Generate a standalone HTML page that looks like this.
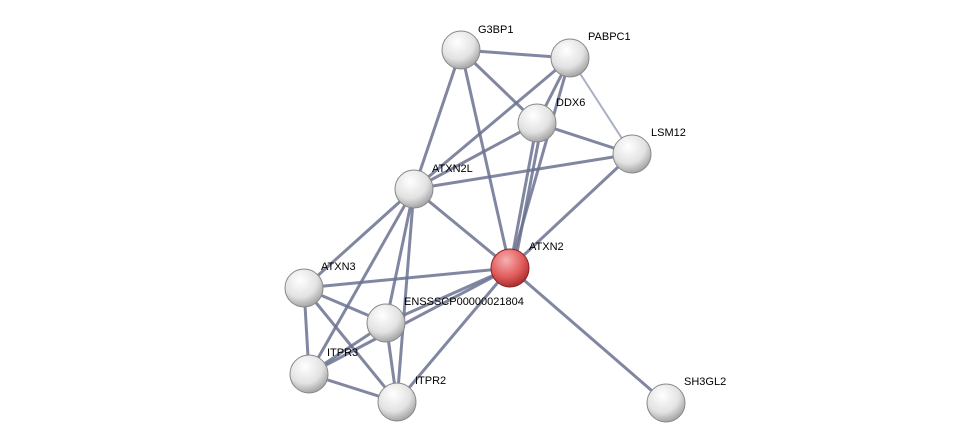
<!DOCTYPE html>
<html><head><meta charset="utf-8"><style>
html,body{margin:0;padding:0;background:#fff;}
svg{display:block;}
text{font-family:"Liberation Sans",sans-serif;font-size:11px;fill:#000;}
</style></head><body>
<svg width="975" height="448" viewBox="0 0 975 448">
<defs>
<radialGradient id="g" cx="0.4" cy="0.3" r="0.75">
<stop offset="0" stop-color="#ffffff"/><stop offset="0.6" stop-color="#e2e2e2"/><stop offset="1" stop-color="#9a9a9a"/>
</radialGradient>
<radialGradient id="r" cx="0.4" cy="0.3" r="0.75">
<stop offset="0" stop-color="#f6b0b0"/><stop offset="0.6" stop-color="#e05a5a"/><stop offset="1" stop-color="#a02828"/>
</radialGradient>
</defs>
<g stroke="#6b7290" stroke-width="3" stroke-opacity="0.85" fill="none">
<line x1="461" y1="50" x2="570" y2="58"/>
<line x1="461" y1="50" x2="537" y2="123"/>
<line x1="461" y1="50" x2="414" y2="189"/>
<line x1="461" y1="50" x2="510" y2="268"/>
<line x1="570" y1="58" x2="537" y2="123"/>
<line x1="570" y1="58" x2="414" y2="189"/>
<line x1="570" y1="58" x2="510" y2="268"/>
<line x1="537" y1="123" x2="632" y2="154"/>
<line x1="537" y1="123" x2="414" y2="189"/>
<line x1="537" y1="123" x2="510" y2="268"/>
<line x1="542" y1="123" x2="514" y2="268"/>
<line x1="632" y1="154" x2="414" y2="189"/>
<line x1="632" y1="154" x2="510" y2="268"/>
<line x1="414" y1="189" x2="510" y2="268"/>
<line x1="414" y1="189" x2="304" y2="288"/>
<line x1="414" y1="189" x2="386" y2="323"/>
<line x1="414" y1="189" x2="309" y2="374"/>
<line x1="414" y1="189" x2="397" y2="402"/>
<line x1="510" y1="268" x2="304" y2="288"/>
<line x1="510" y1="268" x2="386" y2="323"/>
<line x1="510" y1="268" x2="309" y2="374"/>
<line x1="510" y1="268" x2="397" y2="402"/>
<line x1="510" y1="268" x2="666" y2="403"/>
<line x1="304" y1="288" x2="386" y2="323"/>
<line x1="304" y1="288" x2="309" y2="374"/>
<line x1="304" y1="288" x2="397" y2="402"/>
<line x1="386" y1="323" x2="309" y2="374"/>
<line x1="386" y1="323" x2="397" y2="402"/>
<line x1="309" y1="374" x2="397" y2="402"/>
</g>
<line x1="570" y1="58" x2="632" y2="154" stroke="#aab0c4" stroke-width="2"/>
<g stroke="#888" stroke-width="1">
<circle cx="461" cy="50" r="19" fill="url(#g)"/>
<circle cx="570" cy="58" r="19" fill="url(#g)"/>
<circle cx="537" cy="123" r="19" fill="url(#g)"/>
<circle cx="632" cy="154" r="19" fill="url(#g)"/>
<circle cx="414" cy="189" r="19" fill="url(#g)"/>
<circle cx="510" cy="268" r="19" fill="url(#r)" stroke="#8a2020"/>
<circle cx="304" cy="288" r="19" fill="url(#g)"/>
<circle cx="386" cy="323" r="19" fill="url(#g)"/>
<circle cx="309" cy="374" r="19" fill="url(#g)"/>
<circle cx="397" cy="402" r="19" fill="url(#g)"/>
<circle cx="666" cy="403" r="19" fill="url(#g)"/>
</g>
<text x="478" y="33">G3BP1</text>
<text x="588" y="40">PABPC1</text>
<text x="556" y="106">DDX6</text>
<text x="651" y="136">LSM12</text>
<text x="432" y="172">ATXN2L</text>
<text x="529" y="250">ATXN2</text>
<text x="321" y="270">ATXN3</text>
<text x="404" y="305">ENSSSCP00000021804</text>
<text x="327" y="356">ITPR3</text>
<text x="415" y="384">ITPR2</text>
<text x="684" y="385">SH3GL2</text>
</svg>
</body></html>
